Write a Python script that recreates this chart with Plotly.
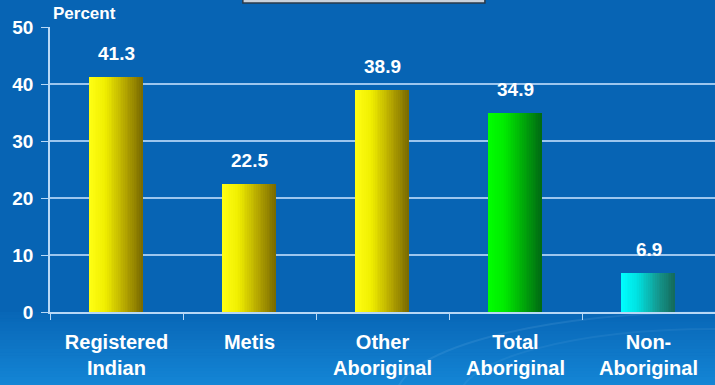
import plotly.graph_objects as go

# Data
categories = ["Registered<br>Indian", "Metis", "Other<br>Aboriginal", "Total<br>Aboriginal", "Non-<br>Aboriginal"]
values = [41.3, 22.5, 38.9, 34.9, 6.9]
value_labels = ["41.3", "22.5", "38.9", "34.9", "6.9"]
bar_groups = ["yellow", "yellow", "yellow", "green", "cyan"]
y_ticks = [0, 10, 20, 30, 40, 50]

# Horizontal shading stops (light on the left, dark on the right)
shades = {
    "yellow": [(0.0, (255, 255, 20)), (0.3, (240, 238, 0)), (0.7, (175, 160, 0)), (1.0, (120, 105, 0))],
    "green": [(0.0, (0, 255, 0)), (0.3, (0, 235, 0)), (0.7, (0, 160, 10)), (1.0, (0, 105, 20))],
    "cyan": [(0.0, (0, 255, 255)), (0.3, (0, 225, 225)), (0.7, (20, 150, 140)), (1.0, (20, 105, 90))],
}


def shade(name, t):
    stops = shades[name]
    for (t0, c0), (t1, c1) in zip(stops[:-1], stops[1:]):
        if t <= t1:
            f = (t - t0) / (t1 - t0) if t1 > t0 else 0
            c = [round(a + (b - a) * f) for a, b in zip(c0, c1)]
            return "rgb({},{},{})".format(*c)
    c = stops[-1][1]
    return "rgb({},{},{})".format(*c)


def mix(c0, c1, f):
    return "rgb({},{},{})".format(*[round(a + (b - a) * f) for a, b in zip(c0, c1)])


BAR_WIDTH = 0.4
N_STRIPS = 30
strip_w = BAR_WIDTH / N_STRIPS
FONT = "Liberation Sans, Arial"

fig = go.Figure()
for k in range(N_STRIPS):
    t = (k + 0.5) / N_STRIPS
    fig.add_trace(go.Bar(
        x=categories,
        y=values,
        width=[strip_w * 1.08] * len(values),
        offset=-BAR_WIDTH / 2 + k * strip_w,
        marker=dict(color=[shade(g, t) for g in bar_groups], line=dict(width=0)),
        hoverinfo="skip",
        showlegend=False,
    ))

# Value labels above each bar
for cat, v, lab in zip(categories, values, value_labels):
    fig.add_annotation(
        x=cat, y=v, text=lab, showarrow=False, yanchor="bottom", yshift=11,
        font=dict(family=FONT, size=19, color="white", weight="bold"),
    )

fig.add_annotation(
    xref="paper", yref="paper", x=0.002, y=1.046, text="Percent", showarrow=False,
    xanchor="left", yanchor="middle",
    font=dict(family=FONT, size=17, color="white", weight="bold"),
)

# Background shading of the slide: darker blue on top, lighter toward the bottom
top_col, mid_col, low_col = (6, 99, 178), (8, 102, 182), (20, 134, 214)
shapes = [dict(type="rect", xref="paper", yref="paper", x0=-0.1, x1=1.05, y0=0.0, y1=1.12,
               fillcolor=mix(top_col, mid_col, 0.5), line=dict(width=0), layer="below")]
n_bands = 24
y_top, y_bot = 0.0, -0.26
for i in range(n_bands):
    y1 = y_top + (y_bot - y_top) * i / n_bands
    y0 = y_top + (y_bot - y_top) * (i + 1) / n_bands
    shapes.append(dict(type="rect", xref="paper", yref="paper", x0=-0.1, x1=1.05, y0=y0 - 0.002, y1=y1,
                       fillcolor=mix(mid_col, low_col, (i + 0.5) / n_bands),
                       line=dict(width=0), layer="below"))
# faint swirls in the lower right corner
for r, op in [(0.30, 0.10), (0.24, 0.07)]:
    shapes.append(dict(type="circle", xref="paper", yref="paper",
                       x0=1.0 - r * 1.6, x1=1.0 + r * 1.6, y0=-0.30 - r, y1=-0.30 + r,
                       line=dict(color="rgba(190,225,255,%.2f)" % op, width=2), layer="below"))
# title box cut off at the top edge
shapes.append(dict(type="rect", xref="paper", yref="paper", x0=0.29, x1=0.654, y0=1.084, y1=1.12,
                   fillcolor="#c9d2dc", line=dict(color="#2a3a4a", width=1.5)))

fig.update_layout(
    width=715, height=385,
    margin=dict(l=50, r=0, t=27, b=73),
    paper_bgcolor="#0663b2",
    plot_bgcolor="rgba(0,0,0,0)",
    barmode="overlay",
    bargap=0,
    shapes=shapes,
    showlegend=False,
)

fig.update_yaxes(
    range=[0, 50], tickvals=y_ticks, showgrid=True, gridcolor="#9cc6ee", gridwidth=1.5,
    showline=True, linecolor="#b8d8f6", linewidth=1.5, ticks="outside", ticklen=7,
    tickcolor="#b8d8f6", zeroline=False, ticklabelstandoff=4,
    tickfont=dict(family=FONT, size=19, color="white", weight="bold"),
)
fig.update_xaxes(
    type="category", showline=True, linecolor="#b8d8f6", linewidth=2,
    ticks="outside", tickson="boundaries", ticklen=6, tickcolor="#b8d8f6",
    ticklabelstandoff=11,
    tickfont=dict(family=FONT, size=20, color="white", weight="bold"),
)

fig.write_html("out.html")
